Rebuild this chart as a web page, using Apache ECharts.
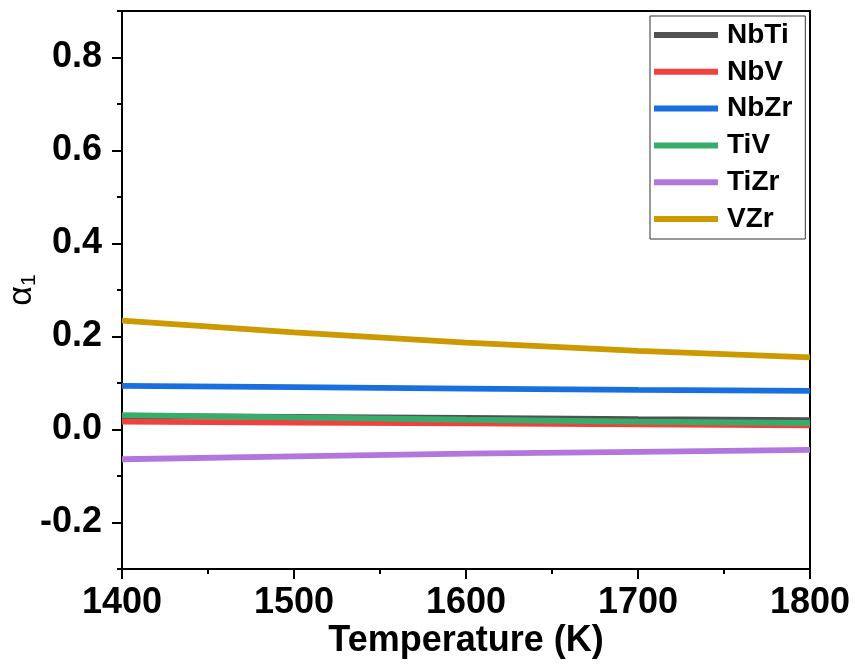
<!DOCTYPE html>
<html>
<head>
<meta charset="utf-8">
<script src="https://cdn.jsdelivr.net/npm/echarts@6/dist/echarts.min.js"></script>
<style>
html,body{margin:0;padding:0;background:#fff;}
#chart{width:855px;height:670px;}
</style>
</head>
<body>
<div id="chart"></div>
<script>
var temperatures = [1400, 1500, 1600, 1700, 1800];
var seriesNames = ['NbTi', 'NbV', 'NbZr', 'TiV', 'TiZr', 'VZr'];
var NbTi = [0.029, 0.027, 0.025, 0.022, 0.020];
var NbV  = [0.017, 0.015, 0.013, 0.011, 0.009];
var NbZr = [0.094, 0.091, 0.088, 0.085, 0.083];
var TiV  = [0.031, 0.026, 0.021, 0.017, 0.014];
var TiZr = [-0.064, -0.058, -0.052, -0.048, -0.044];
var VZr  = [0.234, 0.209, 0.187, 0.169, 0.155];
var yMajorTicks = [-0.2, 0.0, 0.2, 0.4, 0.6, 0.8];
var colors = ['#515151', '#F14040', '#1A6FDF', '#37AD6B', '#B177DE', '#CC9900'];

var values = [NbTi, NbV, NbZr, TiV, TiZr, VZr];
var FONT = '"Liberation Sans", Arial, sans-serif';

var chart = echarts.init(document.getElementById('chart'), null, {renderer: 'canvas'});

var series = seriesNames.map(function (name, i) {
  return {
    name: name,
    type: 'line',
    xAxisIndex: 0,
    yAxisIndex: 0,
    showSymbol: false,
    symbol: 'none',
    data: temperatures.map(function (t, j) { return [t, values[i][j]]; }),
    lineStyle: {color: colors[i], width: 5.8},
    itemStyle: {color: colors[i]},
    z: 3 + i
  };
});

var axisLineStyle = {color: '#000', width: 2};

var option = {
  animation: false,
  backgroundColor: '#fff',
  grid: {left: 122, right: 45, top: 11, bottom: 101, containLabel: false, outerBoundsMode: 'none'},
  legend: {
    orient: 'vertical',
    left: 650,
    top: 16,
    data: seriesNames,
    icon: 'rect',
    itemWidth: 64,
    itemHeight: 6,
    itemGap: 6.8,
    padding: [4, 13, 5, 4],
    borderColor: '#333',
    borderWidth: 1,
    backgroundColor: '#fff',
    textStyle: {
      fontFamily: FONT,
      fontWeight: 'bold',
      fontSize: 28,
      color: '#000',
      lineHeight: 30,
      padding: [0, 0, 0, 4]
    }
  },
  xAxis: [
    {
      type: 'value',
      min: 1400, max: 1800, interval: 100,
      position: 'bottom',
      axisLine: {show: true, onZero: false, lineStyle: axisLineStyle},
      axisTick: {show: true, length: 10, lineStyle: {color: '#000', width: 2}},
      minorTick: {show: true, splitNumber: 2, length: 5, lineStyle: {color: '#000', width: 2}},
      splitLine: {show: false},
      axisLabel: {
        margin: 16,
        fontFamily: FONT, fontWeight: 'bold', fontSize: 36, color: '#000',
        formatter: function (v) { return String(v); }
      },
      name: 'Temperature (K)',
      nameLocation: 'middle',
      nameGap: 54,
      nameMoveOverlap: false,
      nameTextStyle: {fontFamily: FONT, fontWeight: 'bold', fontSize: 36, color: '#000'}
    },
    {
      type: 'value',
      min: 1400, max: 1800,
      position: 'top',
      axisLine: {show: true, onZero: false, lineStyle: axisLineStyle},
      axisTick: {show: false},
      axisLabel: {show: false},
      splitLine: {show: false}
    }
  ],
  yAxis: [
    {
      type: 'value',
      min: -0.3, max: 0.9, interval: 0.1,
      position: 'left',
      axisLine: {show: true, onZero: false, lineStyle: axisLineStyle},
      axisTick: {show: true, length: 5, lineStyle: {color: '#000', width: 2}},
      axisLabel: {show: false},
      splitLine: {show: false}
    },
    {
      type: 'value',
      min: -0.3, max: 0.9,
      position: 'left',
      axisLine: {show: false, onZero: false},
      axisTick: {show: true, length: 10, customValues: yMajorTicks, lineStyle: {color: '#000', width: 2}},
      axisLabel: {
        show: true,
        customValues: yMajorTicks,
        margin: 20,
        fontFamily: FONT, fontWeight: 'bold', fontSize: 36, color: '#000',
        formatter: function (v) { return Number(v).toFixed(1); }
      },
      splitLine: {show: false},
      name: '{a|α}{s|1}',
      nameLocation: 'middle',
      nameGap: 82,
      nameRotate: 90,
      nameMoveOverlap: false,
      nameTextStyle: {
        color: '#000',
        rich: {
          a: {fontFamily: FONT, fontSize: 34, color: '#000'},
          s: {fontFamily: FONT, fontSize: 21, color: '#000', verticalAlign: 'bottom', padding: [16, 0, 0, 0]}
        }
      }
    },
    {
      type: 'value',
      min: -0.3, max: 0.9,
      position: 'right',
      axisLine: {show: true, onZero: false, lineStyle: axisLineStyle},
      axisTick: {show: false},
      axisLabel: {show: false},
      splitLine: {show: false}
    }
  ],
  series: series
};

chart.setOption(option);
</script>
</body>
</html>
